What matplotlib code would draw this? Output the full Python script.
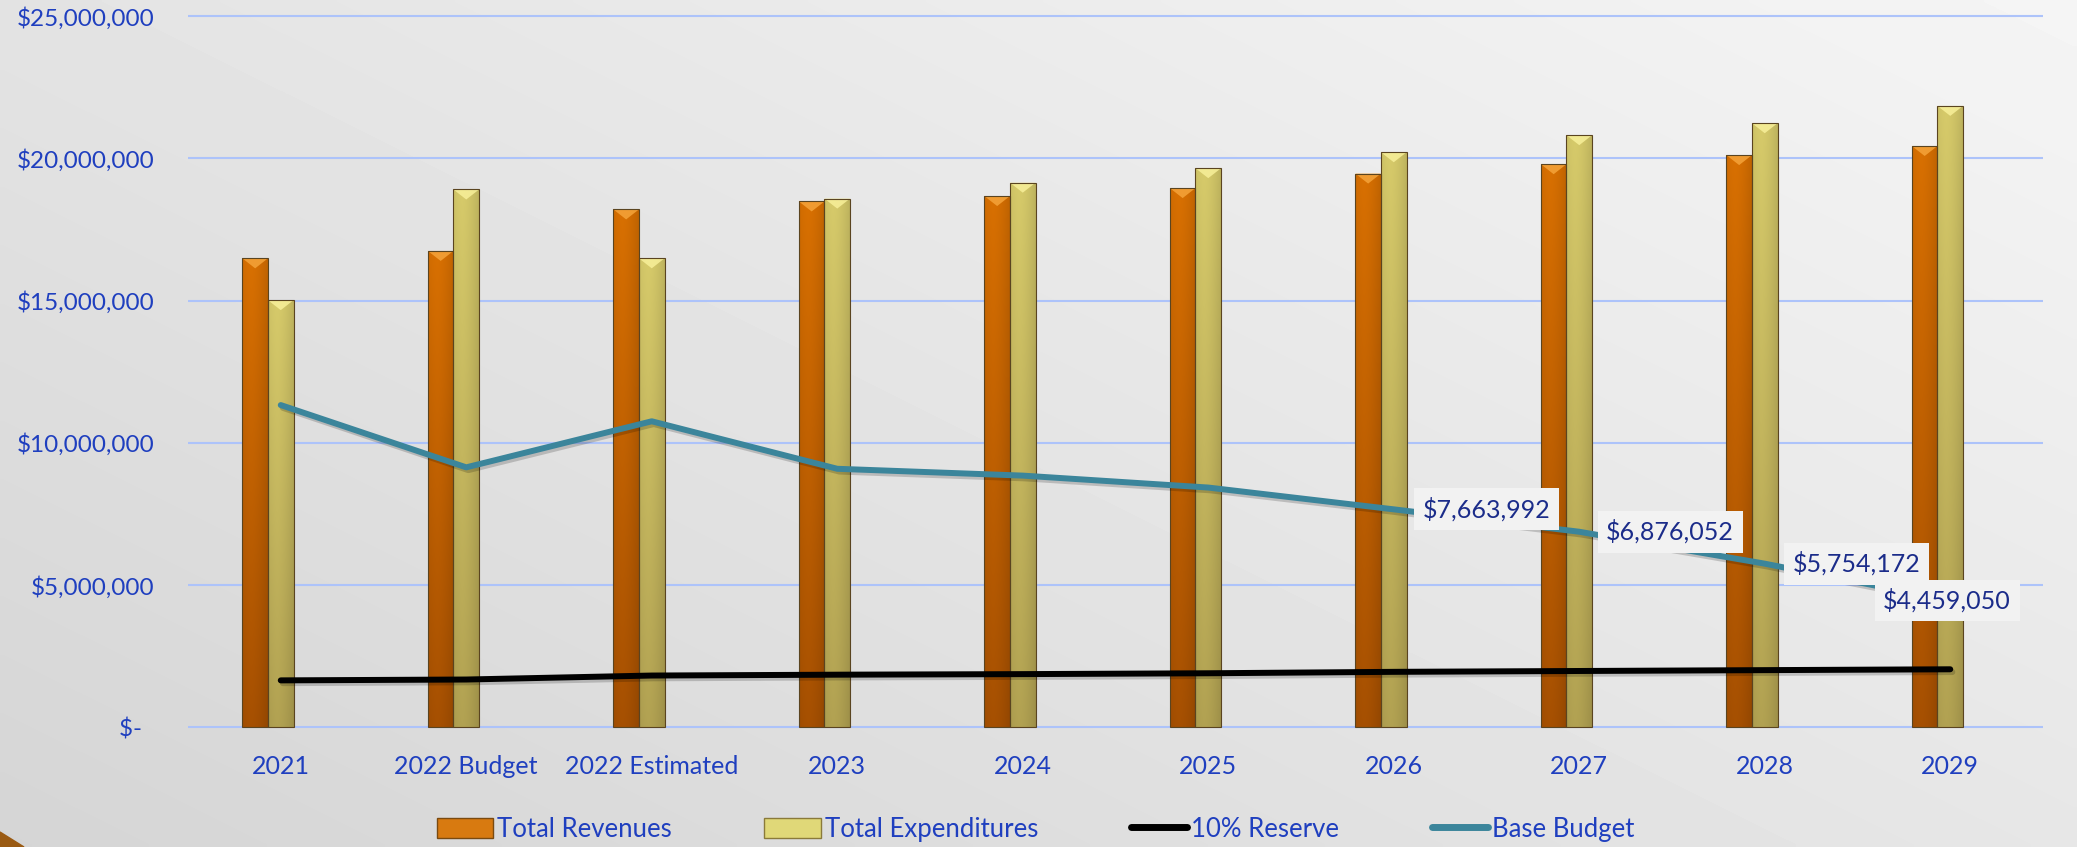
import numpy as np
import matplotlib
matplotlib.use('Agg')
import matplotlib.pyplot as plt
from matplotlib.patches import Polygon, Rectangle
from matplotlib.lines import Line2D
from matplotlib.ticker import FuncFormatter
import matplotlib.patheffects as pe

# ---------------- data ----------------
categories = ['2021', '2022 Budget', '2022 Estimated', '2023', '2024',
              '2025', '2026', '2027', '2028', '2029']
total_revenues = [16.49e6, 16.75e6, 18.21e6, 18.49e6, 18.68e6,
                  18.96e6, 19.47e6, 19.80e6, 20.12e6, 20.44e6]
total_expenditures = [15.02e6, 18.91e6, 16.49e6, 18.59e6, 19.15e6,
                      19.66e6, 20.22e6, 20.82e6, 21.24e6, 21.85e6]
reserve_10pct = [1.65e6, 1.68e6, 1.82e6, 1.85e6, 1.87e6,
                 1.90e6, 1.95e6, 1.98e6, 2.01e6, 2.04e6]
base_budget = [11.33e6, 9.14e6, 10.76e6, 9.09e6, 8.85e6,
               8.43e6, 7663992, 6876052, 5754172, 4459050]
labeled_years = ['2026', '2027', '2028', '2029']
y_ticks = [0, 5e6, 10e6, 15e6, 20e6, 25e6]
legend_labels = ['Total Revenues', 'Total Expenditures', '10% Reserve', 'Base Budget']

# ---------------- style ----------------
W, H = 2077, 847
FONT = ['Lato', 'DejaVu Sans']
TICK_COLOR = '#1f3fbf'
LABEL_COLOR = '#1b2c8a'
REV_TOP, REV_BOT = np.array([0xd8, 0x70, 0x02]) / 255, np.array([0xa6, 0x50, 0x02]) / 255
EXP_TOP, EXP_BOT = np.array([0xd6, 0xca, 0x6a]) / 255, np.array([0xb2, 0xa2, 0x52]) / 255
REV_BEVEL, EXP_BEVEL = '#f5a43a', '#f8f09a'
BASE_COLOR = '#3b859b'
GRID_COLOR = '#adc3fa'
label_dx_px = {'2026': 29, '2027': 27, '2028': 28, '2029': -67}

plt.rcParams['font.family'] = FONT

fig = plt.figure(figsize=(W / 100, H / 100), dpi=100)

# background gradient
bg = fig.add_axes([0, 0, 1, 1], zorder=-10)
xx, yy = np.meshgrid(np.linspace(0, 1, 300), np.linspace(0, 1, 150))
val = 0.835 + 0.125 * (0.55 * xx + 0.45 * yy)
bg.imshow(val, cmap='gray', vmin=0, vmax=1, extent=[0, 1, 0, 1],
          origin='lower', aspect='auto', interpolation='bilinear')
bg.add_patch(Polygon([(0, 0), (0, 15 / H), (24 / W, 0)], closed=True,
                     color='#9a5a12', transform=bg.transAxes))
bg.set_xlim(0, 1); bg.set_ylim(0, 1)
bg.axis('off')

# main axes
ymin, ymax = -0.1e6, 25.2e6
px_per = 28.44 / 1e6
bot_px = 727.3 - ymin * px_per
top_px = 727.3 - ymax * px_per
ax = fig.add_axes([188 / W, (H - bot_px) / H, (2043 - 188) / W, (bot_px - top_px) / H])
ax.patch.set_alpha(0)

x = np.arange(len(categories))
bw = 0.138

rev_bars = ax.bar(x - bw, total_revenues, bw, zorder=2)
exp_bars = ax.bar(x, total_expenditures, bw, zorder=2)


def shade(patch, top, bot, bevel_color):
    x0, y0 = patch.get_x(), patch.get_y()
    w, h = patch.get_width(), patch.get_height()
    ny, nx = 80, 24
    t = np.linspace(0, 1, ny)[:, None, None]
    s = np.linspace(0, 1, nx)[None, :, None]
    base = bot + (top - bot) * t
    factor = 1.0 - 0.22 * np.abs(s - 0.35) ** 1.6
    img = np.clip(base * factor, 0, 1)
    im = ax.imshow(img, extent=[x0, x0 + w, y0, y0 + h], origin='lower',
                   aspect='auto', zorder=2, interpolation='bilinear')
    im.set_clip_path(patch)
    patch.set_facecolor('none')
    patch.set_edgecolor('#5a4420')
    patch.set_linewidth(0.8)
    patch.set_zorder(2.5)
    bev = 10 / px_per
    ax.add_patch(Polygon([(x0, y0 + h), (x0 + w, y0 + h), (x0 + w / 2, y0 + h - bev)],
                         closed=True, facecolor=bevel_color, edgecolor='none',
                         alpha=0.85, zorder=2.4))


for p in rev_bars:
    shade(p, REV_TOP, REV_BOT, REV_BEVEL)
for p in exp_bars:
    shade(p, EXP_TOP, EXP_BOT, EXP_BEVEL)

shadow = [pe.SimpleLineShadow(offset=(1.5, -2), alpha=0.18, shadow_color='black'), pe.Normal()]
ax.plot(x, reserve_10pct, color='black', lw=4.3, solid_capstyle='round',
        solid_joinstyle='round', zorder=4, path_effects=shadow)
ax.plot(x, base_budget, color=BASE_COLOR, lw=4.3, solid_capstyle='round',
        solid_joinstyle='round', zorder=4, path_effects=shadow)

for i, cat in enumerate(categories):
    if cat in labeled_years:
        v = base_budget[i]
        ax.annotate(f"${v:,.0f}", xy=(x[i], v), xytext=(label_dx_px[cat], 0),
                    textcoords='offset pixels', ha='left', va='center', fontsize=18,
                    color=LABEL_COLOR, zorder=6,
                    bbox=dict(boxstyle='square,pad=0.35', fc='#f2f2f2', ec='none'))

ax.set_xlim(-0.5, 9.5)
ax.set_ylim(ymin, ymax)
ax.set_yticks(y_ticks)
ax.yaxis.set_major_formatter(FuncFormatter(lambda v, p: '$-  ' if v == 0 else f"${v:,.0f}"))
ax.set_xticks(x, categories)
ax.tick_params(axis='both', length=0, labelcolor=TICK_COLOR)
ax.tick_params(axis='y', labelsize=17.5, pad=24)
ax.tick_params(axis='x', labelsize=18, pad=18)
ax.grid(axis='y', color=GRID_COLOR, lw=1.5, zorder=0)
ax.set_axisbelow(True)
for sp in ax.spines.values():
    sp.set_visible(False)

handles = [Rectangle((0, 0), 1, 1, facecolor='#d87a10', edgecolor='#7a4a10', lw=1),
           Rectangle((0, 0), 1, 1, facecolor='#e0d878', edgecolor='#8a7a3a', lw=1),
           Line2D([], [], color='black', lw=5, solid_capstyle='round'),
           Line2D([], [], color=BASE_COLOR, lw=5, solid_capstyle='round')]
fig.legend(handles, legend_labels, loc='center', bbox_to_anchor=(0.4986, 0.021), ncol=4,
           frameon=False, fontsize=18.5, labelcolor=TICK_COLOR, handlelength=2.2,
           handleheight=0.8, handletextpad=0.15, columnspacing=3.6)

fig.savefig('out.png', dpi=100)
